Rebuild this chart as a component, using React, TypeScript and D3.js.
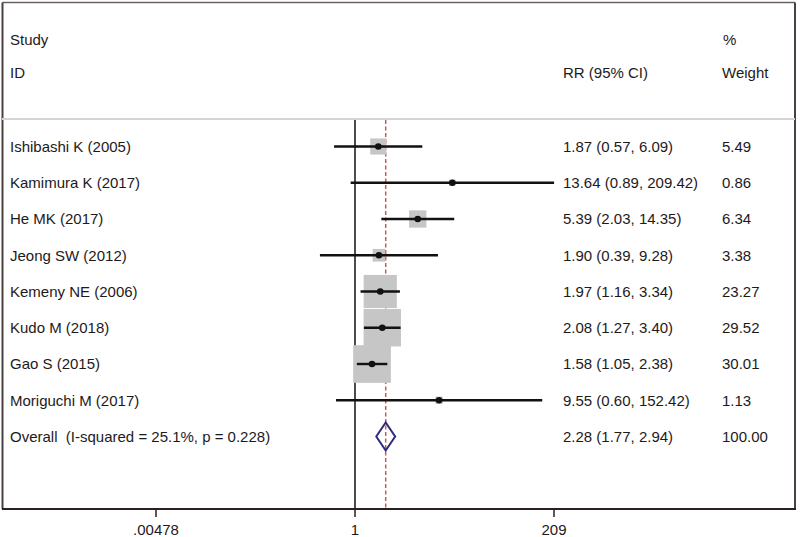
import React from "react";
import * as d3 from "d3";

const studies = [
  "Ishibashi K (2005)",
  "Kamimura K (2017)",
  "He MK (2017)",
  "Jeong SW (2012)",
  "Kemeny NE (2006)",
  "Kudo M (2018)",
  "Gao S (2015)",
  "Moriguchi M (2017)",
];
const rr = [1.87, 13.64, 5.39, 1.9, 1.97, 2.08, 1.58, 9.55];
const lower = [0.57, 0.89, 2.03, 0.39, 1.16, 1.27, 1.05, 0.6];
const upper = [6.09, 209.42, 14.35, 9.28, 3.34, 3.4, 2.38, 152.42];
const weights = [5.49, 0.86, 6.34, 3.38, 23.27, 29.52, 30.01, 1.13];
const ciText = [
  "1.87 (0.57, 6.09)",
  "13.64 (0.89, 209.42)",
  "5.39 (2.03, 14.35)",
  "1.90 (0.39, 9.28)",
  "1.97 (1.16, 3.34)",
  "2.08 (1.27, 3.40)",
  "1.58 (1.05, 2.38)",
  "9.55 (0.60, 152.42)",
];
const weightText = ["5.49", "0.86", "6.34", "3.38", "23.27", "29.52", "30.01", "1.13"];
const overallLabel = "Overall  (I-squared = 25.1%, p = 0.228)";
const overallRR = 2.28;
const overallLo = 1.77;
const overallHi = 2.94;
const overallCiText = "2.28 (1.77, 2.94)";
const overallWeightText = "100.00";
const tickValues = [1 / 209, 1, 209];
const tickLabels = [".00478", "1", "209"];

const W = 800;
const H = 537;
const FONT = "'Liberation Sans', Arial, sans-serif";
const TXT = "#1e1a1a";

export default function App() {
  const x = d3.scaleLog().domain([1 / 209, 209]).range([156, 554]);
  const y = d3.scaleLinear().domain([0, 8]).range([146.5, 436.5]);
  const box = d3.scaleSqrt().domain([0, 30.01]).range([0, 37.7]);
  const plotTop = 120;
  const axisY = 509;
  const oy = y(8);
  const diamond = d3.line()([
    [x(overallLo), oy],
    [x(overallRR), oy - 14],
    [x(overallHi), oy],
    [x(overallRR), oy + 14],
  ]) + "Z";

  return (
    <svg
      width={W}
      height={H}
      style={{ position: "absolute", left: 0, top: 0, background: "#fff", display: "block" }}
      fontFamily={FONT}
      fontSize={15}
    >
      <rect x={0} y={0} width={W} height={H} fill="#fff" />
      {/* frame */}
      <line x1={2.5} y1={2.5} x2={795} y2={2.5} stroke="#6a6060" strokeWidth={1.5} />
      <line x1={2.5} y1={2.5} x2={2.5} y2={axisY} stroke="#4a4040" strokeWidth={2} />
      <line x1={795} y1={2.5} x2={795} y2={axisY} stroke="#4a4040" strokeWidth={2} />
      <line x1={2} y1={119} x2={795} y2={119} stroke="#d4d4d4" strokeWidth={2} />
      {/* headers */}
      <text x={10} y={45} fill={TXT}>Study</text>
      <text x={10} y={78} fill={TXT}>ID</text>
      <text x={723} y={45} fill={TXT}>%</text>
      <text x={722} y={78} fill={TXT}>Weight</text>
      <text x={563} y={78} fill={TXT}>RR (95% CI)</text>
      {/* reference lines */}
      <line x1={x(1)} y1={plotTop} x2={x(1)} y2={axisY} stroke="#111" strokeWidth={1.5} />
      <line
        x1={x(overallRR)}
        y1={plotTop}
        x2={x(overallRR)}
        y2={axisY}
        stroke="#c85a5a"
        strokeWidth={1.5}
        strokeDasharray="4,2.5"
      />
      {/* studies */}
      {studies.map((s, i) => {
        const cy = y(i);
        const b = box(weights[i]);
        return (
          <g key={s}>
            <rect x={x(rr[i]) - b / 2} y={cy - b / 2} width={b} height={b} fill="#c6c6c6" />
          </g>
        );
      })}
      {studies.map((s, i) => {
        const cy = y(i);
        return (
          <g key={s + "ci"}>
            <line x1={x(lower[i])} y1={cy} x2={x(upper[i])} y2={cy} stroke="#111" strokeWidth={2.4} />
            <circle cx={x(rr[i])} cy={cy} r={3.3} fill="#111" />
            <text x={10} y={cy} dy="0.35em" fill={TXT}>{s}</text>
            <text x={563} y={cy} dy="0.35em" fill={TXT}>{ciText[i]}</text>
            <text x={722} y={cy} dy="0.35em" fill={TXT}>{weightText[i]}</text>
          </g>
        );
      })}
      {/* overall */}
      <path d={diamond} fill="none" stroke="#2e2a7e" strokeWidth={2} />
      <text x={10} y={oy} dy="0.35em" fill={TXT} style={{ whiteSpace: "pre" }}>{overallLabel}</text>
      <text x={563} y={oy} dy="0.35em" fill={TXT}>{overallCiText}</text>
      <text x={722} y={oy} dy="0.35em" fill={TXT}>{overallWeightText}</text>
      {/* axis */}
      <line x1={2} y1={axisY} x2={796} y2={axisY} stroke="#2a2020" strokeWidth={2} />
      {tickValues.map((t, i) => (
        <g key={i}>
          <line x1={x(t)} y1={axisY} x2={x(t)} y2={axisY + 8} stroke="#2a2020" strokeWidth={1.5} />
          <text x={x(t)} y={535} textAnchor="middle" fill={TXT}>{tickLabels[i]}</text>
        </g>
      ))}
    </svg>
  );
}
